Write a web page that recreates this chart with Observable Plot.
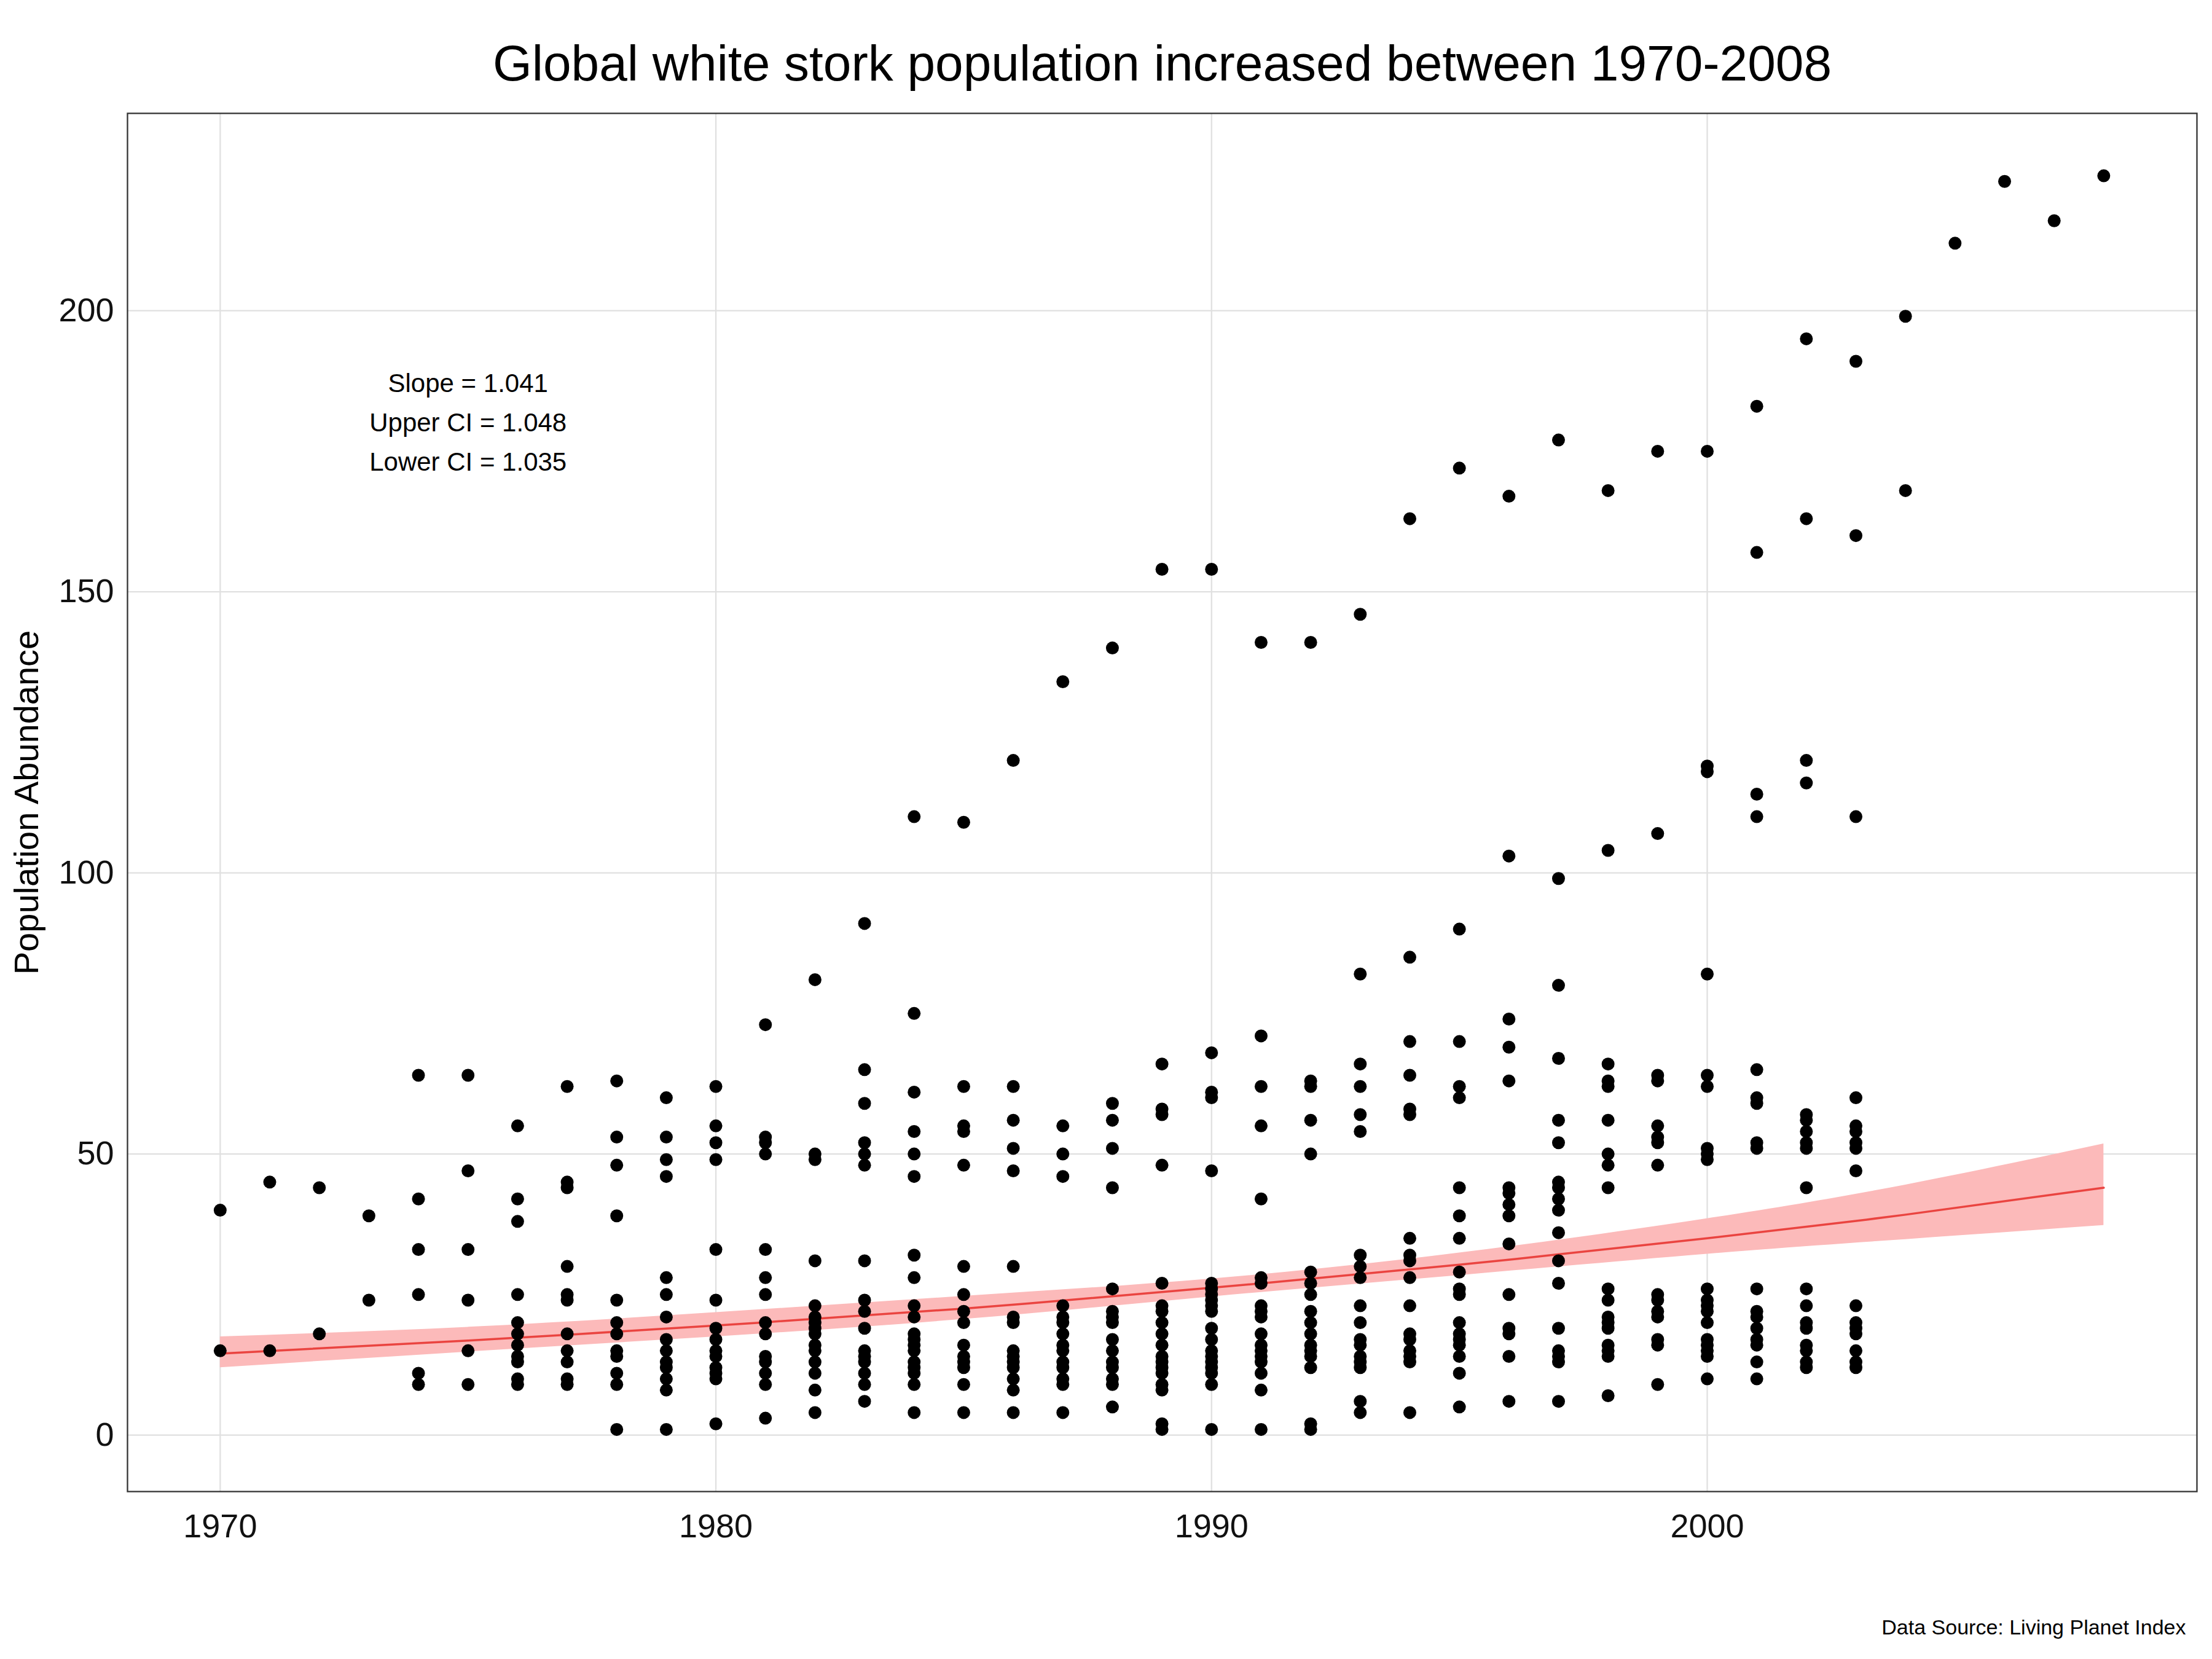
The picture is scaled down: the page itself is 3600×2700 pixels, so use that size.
<!DOCTYPE html>
<html><head><meta charset="utf-8">
<script src="https://cdn.jsdelivr.net/npm/d3@7"></script>
<script src="https://cdn.jsdelivr.net/npm/@observablehq/plot@0.6"></script>
<style>body{margin:0;background:#fff;font-family:"Liberation Sans",Arial,sans-serif}</style>
</head><body><div id="c"></div>
<script>
const years = [1970,1971,1972,1973,1974,1975,1976,1977,1978,1979,1980,1981,1982,1983,1984,1985,1986,1987,1988,1989,1990,1991,1992,1993,1994,1995,1996,1997,1998,1999,2000,2001,2002,2003,2004,2005,2006,2007,2008];
const abundance = [
 [40,15],[45,15],[44,18],[39,24],
 [64,42,33,25,11,9],
 [64,47,33,24,15,9],
 [55,42,38,25,20,18,16,14,13,10,9],
 [62,45,44,30,25,24,18,15,13,10,9],
 [63,53,48,39,24,20,18,15,14,11,9,1],
 [60,53,49,46,28,25,21,17,15,13,12,10,8,1],
 [62,55,52,49,33,24,19,17,15,14,12,11,10,2],
 [73,53,52,50,33,28,25,20,18,14,13,11,9,3],
 [81,50,49,31,23,21,20,19,18,16,15,13,11,8,4],
 [91,65,59,52,50,48,31,24,22,19,15,14,13,11,9,6],
 [110,75,61,54,50,46,32,28,23,21,18,17,16,15,13,12,11,9,4],
 [109,62,55,54,48,30,25,22,20,16,14,13,12,9,4],
 [120,62,56,51,47,30,21,20,15,14,13,12,10,8,4],
 [134,55,50,46,23,21,20,18,16,15,13,12,10,9,4],
 [140,59,56,51,44,26,22,21,20,17,15,13,12,10,9,5],
 [154,66,58,57,48,27,23,22,20,18,16,14,13,12,11,9,8,2,1],
 [154,68,61,60,47,27,26,25,24,23,22,19,17,15,14,13,12,11,9,1],
 [141,71,62,55,42,28,27,23,22,21,18,16,15,14,13,11,8,1],
 [141,63,62,56,50,29,27,25,22,20,18,16,15,14,12,2,1],
 [146,82,66,62,57,54,32,30,28,23,20,17,16,14,13,12,6,4],
 [163,85,70,64,58,57,35,32,31,28,23,18,17,15,14,13,4],
 [172,90,70,62,60,44,39,35,29,26,25,20,18,17,16,14,11,5],
 [167,103,74,69,63,44,43,41,39,34,25,19,18,14,6],
 [177,99,80,67,56,52,45,44,42,40,36,31,27,19,15,14,13,6],
 [168,104,66,63,62,56,50,48,44,26,24,21,20,19,16,15,14,7],
 [175,107,64,63,55,53,52,48,25,24,22,21,17,16,9],
 [175,119,118,82,64,62,51,50,49,26,24,23,22,20,17,16,15,14,10],
 [183,157,114,110,65,60,59,52,51,26,22,21,19,17,16,13,10],
 [195,163,120,116,57,56,54,52,51,44,26,23,20,19,16,15,13,12],
 [191,160,110,60,55,54,52,51,47,23,20,19,18,15,13,12],
 [199,168],[212],[223],[216],[224]
];
const trendYears = [1970,1975,1980,1985,1990,1995,2000,2004,2008];
const trendFit   = [14.5,16.8,19.5,22.5,26.2,30.3,35.0,39.2,44.0];
const trendLower = [12.0,14.8,17.5,20.6,24.6,28.4,32.2,34.8,37.3];
const trendUpper = [17.5,19.2,21.8,24.7,27.8,32.4,38.5,44.5,51.8];
const xTicks = [1970,1980,1990,2000];
const yTicks = [0,50,100,150,200];
const statsLines = ["Slope = 1.041","Upper CI = 1.048","Lower CI = 1.035"];

const pts = years.flatMap((y,i)=>abundance[i].map(v=>({year:y,value:v})));
const trend = trendYears.map((y,i)=>({year:y,fit:trendFit[i],lo:trendLower[i],hi:trendUpper[i]}));

const chart = Plot.plot({
  width:3600, height:2700,
  marginTop:184, marginBottom:273, marginLeft:207, marginRight:25,
  style:{fontFamily:'"Liberation Sans",Arial,sans-serif', background:"#fff"},
  x:{domain:[1968.13,2009.88], label:null},
  y:{domain:[-10.05,235.1], label:null},
  marks:[
    Plot.gridX(xTicks,{stroke:"#e0e0e0",strokeOpacity:1,strokeWidth:2.3}),
    Plot.gridY(yTicks,{stroke:"#e0e0e0",strokeOpacity:1,strokeWidth:2.3}),
    Plot.areaY(trend,{x:"year",y1:"lo",y2:"hi",fill:"#fcbaba",curve:"natural"}),
    Plot.line(trend,{x:"year",y:"fit",stroke:"#ea4440",strokeWidth:3.5,curve:"natural"}),
    Plot.dot(pts,{x:"year",y:"value",r:10.5,fill:"#000",stroke:"none"}),
    Plot.frame({stroke:"#333",strokeWidth:2.3}),
    Plot.axisX(xTicks,{tickSize:0,tickPadding:36,fontSize:54,fill:"#111",tickFormat:d=>String(d)}),
    Plot.axisY(yTicks,{tickSize:0,tickPadding:22,fontSize:54,fill:"#111",label:null}),
    Plot.text(statsLines,{x:()=>1975.0,y:(d,i)=>[187,180,173][i],text:d=>d,fontSize:42,fill:"#000",textAnchor:"middle"}),
    Plot.text(["Global white stork population increased between 1970-2008"],{frameAnchor:"top",dy:-112,fontSize:82,fill:"#000"}),
    Plot.text(["Data Source: Living Planet Index"],{frameAnchor:"bottom-right",dy:232,dx:-18,fontSize:34,fill:"#000",textAnchor:"end"}),
    Plot.text(["Population Abundance"],{frameAnchor:"left",dx:-163,rotate:-90,fontSize:56,fill:"#000",textAnchor:"middle"})
  ]
});
document.getElementById("c").appendChild(chart);
</script></body></html>
